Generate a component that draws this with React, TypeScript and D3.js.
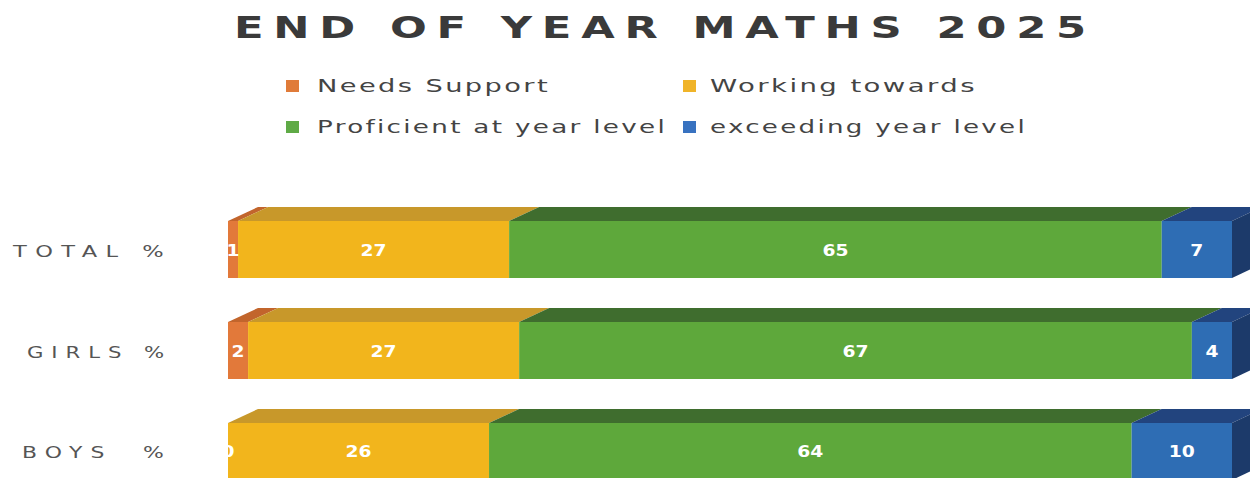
import React, { useEffect } from "react";
import * as d3 from "d3";

const categories = ["TOTAL %", "GIRLS %", "BOYS  %"];
const seriesNames = ["Needs Support", "Working towards", "Proficient at year level", "exceeding year level"];
const needsSupport = [1, 2, 0];
const workingTowards = [27, 27, 26];
const proficient = [65, 67, 64];
const exceeding = [7, 4, 10];

const frontColors = ["#E2793A", "#F2B51C", "#5EA83B", "#2E6DB4"];
const topColors = ["#C2652C", "#C8982A", "#3F6D2E", "#22447E"];
const sideColor = "#1C3A6A";
const legendColors = ["#E07B39", "#F0B429", "#5FAA46", "#3872C0"];

export default function App() {
  useEffect(() => {
    document.body.style.margin = "0";
  }, []);

  const W = 1250;
  const H = 478;
  const x = d3.scaleLinear().domain([0, 100]).range([228, 1232]);
  const y = d3.scaleBand<string>().domain(categories).range([221, 480]).paddingInner(0.4356).paddingOuter(0);
  const dx = 30;
  const dy = -14;

  const rows = categories.map((c, i) => ({
    cat: c,
    "Needs Support": needsSupport[i],
    "Working towards": workingTowards[i],
    "Proficient at year level": proficient[i],
    "exceeding year level": exceeding[i],
  }));
  const stacked = d3.stack<any>().keys(seriesNames)(rows);

  const faces: React.ReactNode[] = [];
  const labels: React.ReactNode[] = [];
  categories.forEach((c, ci) => {
    const top = y(c)!;
    const bottom = top + y.bandwidth();
    stacked.forEach((s, si) => {
      const [v0, v1] = s[ci];
      const x0 = x(v0);
      const x1 = x(v1);
      const topPath = d3.path();
      topPath.moveTo(x0, top);
      topPath.lineTo(x0 + dx, top + dy);
      topPath.lineTo(x1 + dx, top + dy);
      topPath.lineTo(x1, top);
      topPath.closePath();
      faces.push(<path key={`t${ci}-${si}`} d={topPath.toString()} fill={topColors[si]} />);
      faces.push(<rect key={`f${ci}-${si}`} x={x0} y={top} width={Math.max(0, x1 - x0)} height={bottom - top} fill={frontColors[si]} />);
      if (si === stacked.length - 1) {
        const sp = d3.path();
        sp.moveTo(x1, top);
        sp.lineTo(x1 + dx, top + dy);
        sp.lineTo(x1 + dx, bottom + dy);
        sp.lineTo(x1, bottom);
        sp.closePath();
        faces.push(<path key={`s${ci}`} d={sp.toString()} fill={sideColor} />);
      }
      const val = String(s[ci].data[seriesNames[si]]);
      labels.push(
        <text key={`l${ci}-${si}`} x={(x0 + x1) / 2} y={(top + bottom) / 2 + 6} textAnchor="middle" fill="#fff" fontWeight="bold" fontSize={16} fontFamily="DejaVu Sans, sans-serif" textLength={val.length * 13} lengthAdjust="spacingAndGlyphs">
          {val}
        </text>
      );
    });
  });

  const legendPos = [
    { sx: 286, sy: 80, tx: 317, tl: 233 },
    { sx: 683, sy: 80, tx: 710, tl: 267 },
    { sx: 286, sy: 121, tx: 317, tl: 350 },
    { sx: 683, sy: 121, tx: 710, tl: 317 },
  ];
  const catLabelStart = [13, 27, 22];

  return (
    <svg width={W} height={H} style={{ position: "absolute", left: 0, top: 0, background: "#fff" }}>
      <text x={234} y={38} fill="#3a3a3a" fontSize={31} fontWeight="bold" fontFamily="DejaVu Sans, sans-serif" letterSpacing={7} textLength={862} lengthAdjust="spacingAndGlyphs">
        END OF YEAR MATHS 2025
      </text>
      {seriesNames.map((n, i) => (
        <g key={n}>
          <rect x={legendPos[i].sx} y={legendPos[i].sy} width={13} height={12} fill={legendColors[i]} />
          <text x={legendPos[i].tx} y={legendPos[i].sy + 12} fill="#444" fontSize={17} fontFamily="DejaVu Sans, sans-serif" letterSpacing={1.5} textLength={legendPos[i].tl} lengthAdjust="spacingAndGlyphs">
            {n}
          </text>
        </g>
      ))}
      {categories.map((c, i) => (
        <text key={c} x={catLabelStart[i]} y={y(c)! + y.bandwidth() / 2 + 7} fill="#555" fontSize={16} fontFamily="DejaVu Sans, sans-serif" letterSpacing={6} textLength={172 - catLabelStart[i]} lengthAdjust="spacingAndGlyphs" style={{ whiteSpace: "pre" }}>
          {c}
        </text>
      ))}
      {faces}
      {labels}
    </svg>
  );
}
